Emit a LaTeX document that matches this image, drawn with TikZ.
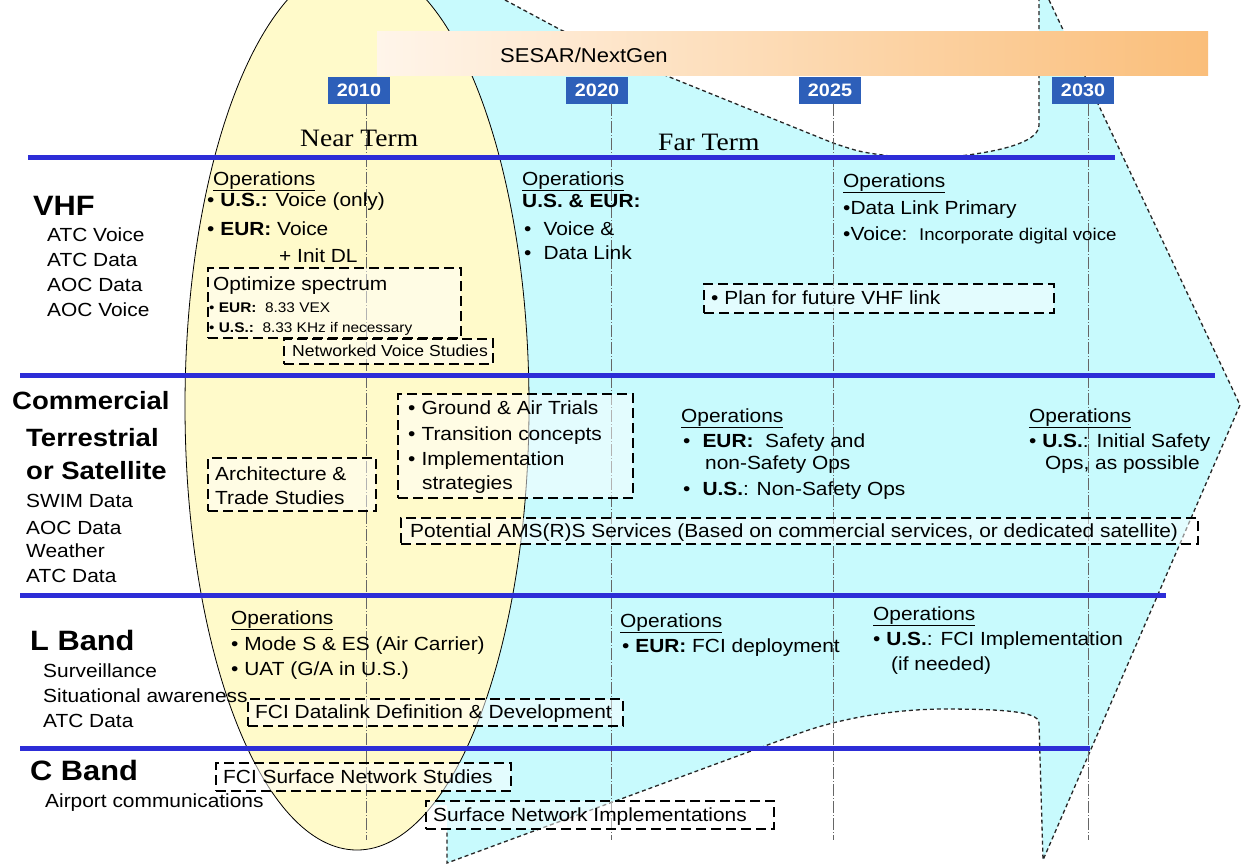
\documentclass[tikz,border=0pt]{standalone}
\usepackage{fontspec}
\setmainfont{Liberation Sans}[FakeStretch=1.1]
\newfontfamily\serifrm{Liberation Serif}[FakeStretch=1.1]
\definecolor{cyanfill}{RGB}{200,250,253}
\definecolor{yellowfill}{RGB}{255,250,202}
\definecolor{lineblue}{RGB}{45,45,215}
\definecolor{yearblue}{RGB}{45,95,185}
\definecolor{barL}{RGB}{255,245,234}
\definecolor{barR}{RGB}{250,190,122}
\tikzset{
  txt/.style={inner sep=0pt, anchor=base west, font=\fontsize{19}{21}\selectfont},
  smalltxt/.style={txt, font=\fontsize{14}{16}\selectfont},
  midtxt/.style={txt, font=\fontsize{16}{18}\selectfont},
  headtxt/.style={txt, font=\fontsize{28}{30}\selectfont\bfseries},
  comtxt/.style={txt, font=\fontsize{25}{27}\selectfont\bfseries},
  termtxt/.style={txt, font=\serifrm\fontsize{25}{27}\selectfont},
  dbox/.style={draw=black, line width=2.3pt, dash pattern=on 10pt off 5pt, fill=white, fill opacity=0.5, draw opacity=1, anchor=north west, inner sep=0pt},
  yearbox/.style={fill=yearblue, text=white, font=\fontsize{18}{20}\selectfont\bfseries, minimum width=62pt, minimum height=27pt, inner sep=0pt, anchor=north},
  blueline/.style={line width=5pt, draw=lineblue},
  vline/.style={draw=black!60, line width=0.7pt, dash pattern=on 12pt off 2pt on 1pt off 2pt},
  cyanedge/.style={draw=black!85, line width=1.3pt, dash pattern=on 4pt off 3pt},
}
\begin{document}
\begin{tikzpicture}[x=1pt,y=-1pt]
\useasboundingbox (0,0) rectangle (1241,865);
\clip (0,0) rectangle (1241,865);
\fill[white] (0,0) rectangle (1241,865);

% cyan "far term" region
\fill[cyanfill] (370,0) -- (505,0) -- (561,30) -- (667,76) -- (833,143)
  .. controls (860,152) .. (890,156) -- (960,156)
  .. controls (1010,150) and (1039,140) .. (1039,125) -- (1039,0) -- (1049,0)
  -- (1240,405) -- (1043,860) -- (1039,723)
  .. controls (1039,711) and (1000,709) .. (940,709)
  .. controls (880,710) and (830,722) .. (800,733) -- (447,863) -- (447,805) -- (370,805) -- cycle;
\draw[cyanedge] (505,0) -- (561,30) -- (667,76) -- (833,143)
  .. controls (860,152) .. (890,156) -- (960,156)
  .. controls (1010,150) and (1039,140) .. (1039,125) -- (1039,0);
\draw[cyanedge] (1049,0) -- (1240,405) -- (1043,860) -- (1039,723)
  .. controls (1039,711) and (1000,709) .. (940,709)
  .. controls (880,710) and (830,722) .. (800,733) -- (447,863) -- (447,828);

% near term ellipse
\draw[fill=yellowfill, line width=0.8pt] (357,406) ellipse [x radius=172pt, y radius=444pt];

% year lines
\draw[vline] (366,104) -- (366,840);
\draw[vline] (611,104) -- (611,840);
\draw[vline] (833,104) -- (833,840);
\draw[vline] (1088,104) -- (1088,840);

% row separators
\draw[blueline] (28,157) -- (1115,157);
\draw[blueline] (20,375) -- (1215,375);
\draw[blueline] (20,595) -- (1166,595);
\draw[blueline] (20,748) -- (1090,748);

% SESAR bar
\shade[left color=barL, right color=barR] (377,31) rectangle (1208,75);
\node[txt, font=\fontsize{20}{22}\selectfont] (sesar) at (500,62) {SESAR/NextGen};

% years
\node[yearbox] (y2010) at (359,77) {2010};
\node[yearbox] (y2020) at (597,77) {2020};
\node[yearbox] (y2025) at (830,77) {2025};
\node[yearbox] (y2030) at (1083,77) {2030};

\node[termtxt] (near) at (300,146) {Near Term};
\node[termtxt] (far) at (658,150) {Far Term};

% left labels
\node[headtxt] (vhf) at (33,215) {VHF};
\node[txt] (l1) at (47,241) {ATC Voice};
\node[txt] (l2) at (47,266) {ATC Data};
\node[txt] (l3) at (47,291) {AOC Data};
\node[txt] (l4) at (47,316) {AOC Voice};
\node[comtxt] (com1) at (12,409) {Commercial};
\node[comtxt] (com2) at (26,446) {Terrestrial};
\node[comtxt] (com3) at (26,479) {or Satellite};
\node[txt] (l5) at (26,507) {SWIM Data};
\node[txt] (l6) at (26,534) {AOC Data};
\node[txt] (l7) at (26,557) {Weather};
\node[txt] (l8) at (26,582) {ATC Data};
\node[headtxt] (lband) at (30,650) {L Band};
\node[txt] (l9) at (43,677) {Surveillance};
\node[txt] (l10) at (43,702) {Situational awareness};
\node[txt] (l11) at (43,727) {ATC Data};
\node[headtxt] (cband) at (30,780) {C Band};
\node[txt] (l12) at (45,807) {Airport communications};

% dashed boxes
\node[dbox, minimum width=253pt, minimum height=70pt] (optbox) at (207,267) {};
\node[dbox, minimum width=209pt, minimum height=25pt] (netbox) at (283,338) {};
\node[dbox, minimum width=350pt, minimum height=29pt] (planbox) at (703,283) {};
\node[dbox, minimum width=168pt, minimum height=53pt] (archbox) at (207,457) {};
\node[dbox, minimum width=235pt, minimum height=104pt] (trialbox) at (397,393) {};
\node[dbox, minimum width=797pt, minimum height=26pt] (potbox) at (400,517) {};
\node[dbox, minimum width=375pt, minimum height=27pt] (fcibox) at (247,698) {};
\node[dbox, minimum width=295pt, minimum height=28pt] (surfbox) at (215,762) {};
\node[dbox, minimum width=348pt, minimum height=28pt] (implbox) at (425,800) {};

% VHF row
\node[txt] (o1) at (213,185) {\underline{Operations}};
\node[txt] (o1a) at (207,206) {• \textbf{U.S.:} Voice (only)};
\node[txt] (o1b) at (207,235) {• \textbf{EUR:} Voice};
\node[txt] (o1c) at (279,262) {+ Init DL};
\node[txt] (opt1) at (213,290) {Optimize spectrum};
\node[smalltxt] (opt2) at (209,312) {• \textbf{EUR:}\ \ 8.33 VEX};
\node[smalltxt] (opt3) at (209,332) {• \textbf{U.S.:}\ \ 8.33 KHz if necessary};
\node[midtxt] (net) at (292,356) {Networked Voice Studies};
\node[txt] (o2) at (522,185) {\underline{Operations}};
\node[txt] (o2a) at (522,207) {\textbf{U.S. \& EUR:}};
\node[txt] (o2b) at (524,235) {•\hspace{12pt}Voice \&};
\node[txt] (o2c) at (524,259) {•\hspace{12pt}Data Link};
\node[txt] (o3) at (843,187) {\underline{Operations}};
\node[txt] (o3a) at (843,214) {•Data Link Primary};
\node[txt] (o3b) at (843,240) {•Voice:\ \ {\fontsize{17}{19}\selectfont Incorporate digital voice}};
\node[txt] (plan) at (711,304) {• Plan for future VHF link};

% Commercial row
\node[txt] (arch1) at (215,480) {Architecture \&};
\node[txt] (arch2) at (215,504) {Trade Studies};
\node[txt] (tr1) at (408,414) {•\hspace{6pt}Ground \& Air Trials};
\node[txt] (tr2) at (408,440) {•\hspace{6pt}Transition concepts};
\node[txt] (tr3) at (408,465) {•\hspace{6pt}Implementation};
\node[txt] (tr4) at (422,489) {strategies};
\node[txt] (o4) at (681,422) {\underline{Operations}};
\node[txt] (o4a) at (683,447) {•\hspace{12pt}\textbf{EUR:}\ \ Safety and};
\node[txt] (o4b) at (705,469) {non-Safety Ops};
\node[txt] (o4c) at (683,495) {•\hspace{12pt}\textbf{U.S.}: Non-Safety Ops};
\node[txt] (o5) at (1029,422) {\underline{Operations}};
\node[txt] (o5a) at (1029,447) {• \textbf{U.S.}: Initial Safety};
\node[txt] (o5b) at (1045,469) {Ops, as possible};
\node[txt] (pot) at (410,537) {Potential AMS(R)S Services (Based on commercial services, or dedicated satellite)};

% L Band row
\node[txt] (o6) at (231,624) {\underline{Operations}};
\node[txt] (o6a) at (231,650) {• Mode S \& ES (Air Carrier)};
\node[txt] (o6b) at (231,675) {• UAT (G/A in U.S.)};
\node[txt] (fci) at (255,718) {FCI Datalink Definition \& Development};
\node[txt] (o7) at (620,627) {\underline{Operations}};
\node[txt] (o7a) at (622,652) {• \textbf{EUR:} FCI deployment};
\node[txt] (o8) at (873,620) {\underline{Operations}};
\node[txt] (o8a) at (873,645) {• \textbf{U.S.}: FCI Implementation};
\node[txt] (o8b) at (891,670) {(if needed)};

% C Band row
\node[txt] (surf) at (223,783) {FCI Surface Network Studies};
\node[txt] (impl) at (433,821) {Surface Network Implementations};
\end{tikzpicture}
\end{document}
